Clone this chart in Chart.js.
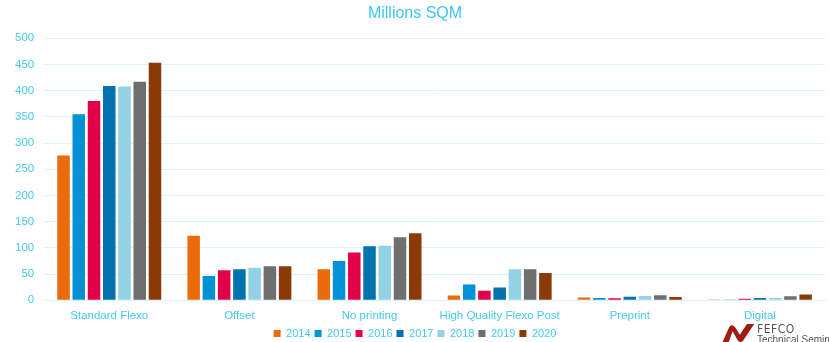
<!DOCTYPE html>
<html>
<head>
<meta charset="utf-8">
<script src="https://cdn.jsdelivr.net/npm/chart.js@4/dist/chart.umd.min.js"></script>
<style>
  body { margin: 0; background: #fff; }
  #wrap { position: relative; width: 829px; height: 342px; overflow: hidden; }
  #logo { position: absolute; left: 720px; top: 321px; width: 130px; height: 24px; }
  #logo .name { position: absolute; left: 37px; top: 1px; font: 12px "DejaVu Sans Condensed", "DejaVu Sans", sans-serif; color: #555; letter-spacing: 0.5px; }
  #logo .sub { position: absolute; left: 37px; top: 13px; font: 10px "Liberation Sans", sans-serif; color: #555; white-space: nowrap; }
</style>
</head>
<body>
<div id="wrap">
  <canvas id="chart" width="829" height="342"></canvas>
  <div id="logo">
    <svg width="36" height="24" viewBox="0 0 40 24">
      <path d="M2 24 L10 6 Q13 1 17 6 L22 14 L30 2 L38 2 L26 20 Q22 25 19 19 L14 10 L9 24 Z" fill="#9E1B16"/>
    </svg>
    <div class="name">FEFCO</div>
    <div class="sub">Technical Seminar</div>
  </div>
</div>
<script>
// categories and yearly values (millions of square metres)
var categories = ['Standard Flexo', 'Offset', 'No printing', 'High Quality Flexo Post', 'Preprint', 'Digital'];
var years = ['2014', '2015', '2016', '2017', '2018', '2019', '2020'];
var colors = ['#EB6A0C', '#0092D6', '#E3004B', '#0072AD', '#93D1E4', '#6E6E6E', '#8A3A07'];

var v2014 = [276, 123, 59, 9, 5, 0.5];
var v2015 = [355, 46, 75, 30, 4, 1.5];
var v2016 = [380, 57, 91, 18, 3.5, 3];
var v2017 = [409, 59, 103, 24, 6.5, 4];
var v2018 = [408, 62, 104, 59, 8, 4];
var v2019 = [417, 65, 120, 59, 9.5, 7.5];
var v2020 = [453, 65, 128, 52, 6, 11];
var values = [v2014, v2015, v2016, v2017, v2018, v2019, v2020];

var yTicks = [0, 50, 100, 150, 200, 250, 300, 350, 400, 450, 500];

var textColor = '#45C9F2';
var gridColor = '#D9F4FC';

var datasets = years.map(function(y, i) {
  return {
    label: y,
    data: values[i],
    backgroundColor: colors[i],
    borderWidth: 0,
    categoryPercentage: 0.82,
    barPercentage: 0.82
  };
});

var ctx = document.getElementById('chart').getContext('2d');
new Chart(ctx, {
  type: 'bar',
  data: { labels: categories, datasets: datasets },
  options: {
    responsive: false,
    animation: false,
    layout: { padding: { left: 5, right: 4, top: 0, bottom: -7 } },
    plugins: {
      title: {
        display: true,
        text: 'Millions SQM',
        color: '#3CC6F4',
        font: { family: 'Liberation Sans', size: 16, weight: 'normal' },
        padding: { top: 4, bottom: 15 }
      },
      legend: {
        position: 'bottom',
        labels: {
          color: textColor,
          boxWidth: 7,
          boxHeight: 7,
          padding: 4,
          font: { family: 'Liberation Sans', size: 11 }
        }
      },
      tooltip: { enabled: false }
    },
    scales: {
      x: {
        grid: { display: false },
        border: { color: gridColor },
        ticks: {
          color: textColor,
          padding: 1,
          font: { family: 'Liberation Sans', size: 11.5 }
        }
      },
      y: {
        min: 0,
        max: 500,
        afterBuildTicks: function(axis) {
          axis.ticks = yTicks.map(function(v) { return { value: v }; });
        },
        grid: { color: gridColor, drawTicks: false },
        border: { display: false },
        ticks: {
          color: textColor,
          padding: 10,
          font: { family: 'Liberation Sans', size: 11.5 }
        }
      }
    }
  }
});
</script>
</body>
</html>
